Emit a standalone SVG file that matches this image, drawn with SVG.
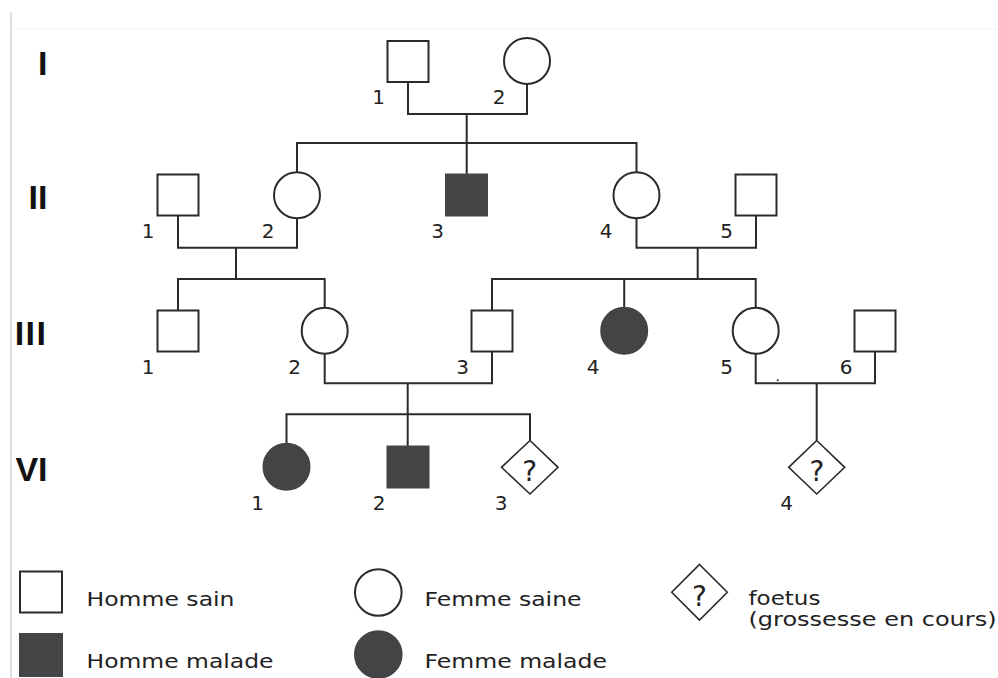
<svg xmlns="http://www.w3.org/2000/svg" width="998" height="678" viewBox="0 0 998 678">
<style>
.bg{fill:#ffffff}
.ln{fill:none;stroke:#2b2b2b;stroke-width:2}
.m{fill:#ffffff;stroke:#2b2b2b;stroke-width:2}
.f{fill:#444444;stroke:#444444;stroke-width:2}
.d{fill:#ffffff;stroke:#2b2b2b;stroke-width:1.6}
.gen{font-family:"Liberation Sans",Arial,sans-serif;font-weight:bold;font-size:34px;fill:#111111;text-anchor:end}
.num{font-family:"DejaVu Sans",Verdana,sans-serif;font-size:20px;fill:#222222;text-anchor:middle}
.q{font-family:"DejaVu Sans",Verdana,sans-serif;font-size:28px;fill:#222222;text-anchor:middle}
.lg{font-family:"DejaVu Sans",Verdana,sans-serif;font-size:20px;fill:#222222}
</style>
<rect class="bg" x="0" y="0" width="998" height="678"/>
<line x1="11" y1="12" x2="11" y2="678" stroke="#d4d4d4" stroke-width="1.5"/>
<line x1="12" y1="29" x2="998" y2="29" stroke="#f3f3f3" stroke-width="1"/>

<g id="generations">
<text class="gen" x="47.5" y="75">I</text>
<text class="gen" x="47.5" y="209">II</text>
<text class="gen" x="47.5" y="345" letter-spacing="1.5">III</text>
<text class="gen" x="47.5" y="481">VI</text>
</g>

<g id="connectors">
<path class="ln" d="M408 83 V114 H527 V84"/>
<path class="ln" d="M466.7 114 V174"/>
<path class="ln" d="M297 172 V143 H636.5 V172"/>
<path class="ln" d="M178 216 V247.7 H297 V218.5"/>
<path class="ln" d="M236 247.7 V279"/>
<path class="ln" d="M178 310 V279 H324.7 V307.8"/>
<path class="ln" d="M636.5 218.5 V247.7 H756 V216"/>
<path class="ln" d="M697.7 247.7 V279"/>
<path class="ln" d="M492 310 V279 H755.7 V307.8"/>
<path class="ln" d="M624.2 279 V307.8"/>
<path class="ln" d="M324.7 354 V383.3 H492 V352"/>
<path class="ln" d="M407.7 383.3 V446"/>
<path class="ln" d="M286.5 443 V414.3 H530 V440.5"/>
<path class="ln" d="M755.7 354 V383.3 H875 V352"/>
<path class="ln" d="M816.7 383.3 V440.5"/>
<circle cx="777.7" cy="380.3" r="1" fill="#2b2b2b"/>
</g>

<g id="I-1"><rect class="m" x="387.5" y="41" width="41" height="41"/><text class="num" x="378.5" y="104">1</text></g>
<g id="I-2"><circle class="m" cx="527" cy="61" r="23"/><text class="num" x="499" y="104">2</text></g>

<g id="II-1"><rect class="m" x="157.5" y="174.5" width="41" height="41"/><text class="num" x="148" y="238">1</text></g>
<g id="II-2"><circle class="m" cx="297" cy="195.3" r="23"/><text class="num" x="268" y="238">2</text></g>
<g id="II-3"><rect class="f" x="446" y="174.5" width="41" height="41"/><text class="num" x="437.5" y="238">3</text></g>
<g id="II-4"><circle class="m" cx="636.5" cy="195.3" r="23"/><text class="num" x="606" y="238">4</text></g>
<g id="II-5"><rect class="m" x="735.5" y="174.5" width="41" height="41"/><text class="num" x="726.5" y="238">5</text></g>

<g id="III-1"><rect class="m" x="157.5" y="310.5" width="41" height="41"/><text class="num" x="148" y="374">1</text></g>
<g id="III-2"><circle class="m" cx="324.7" cy="330.8" r="23"/><text class="num" x="294.5" y="374">2</text></g>
<g id="III-3"><rect class="m" x="471.5" y="310.5" width="41" height="41"/><text class="num" x="462.5" y="374">3</text></g>
<g id="III-4"><circle class="f" cx="624.2" cy="330.8" r="23"/><text class="num" x="593" y="374">4</text></g>
<g id="III-5"><circle class="m" cx="755.7" cy="330.8" r="23"/><text class="num" x="726.5" y="374">5</text></g>
<g id="III-6"><rect class="m" x="854.5" y="310.5" width="41" height="41"/><text class="num" x="846" y="374">6</text></g>

<g id="IV-1"><circle class="f" cx="286.5" cy="466.8" r="23"/><text class="num" x="257.5" y="510">1</text></g>
<g id="IV-2"><rect class="f" x="387.5" y="446.5" width="41" height="41"/><text class="num" x="379" y="510">2</text></g>
<g id="IV-3"><polygon class="d" points="530,440.5 558,467.3 530,494 501.5,467.3"/><text class="q" x="529.7" y="480.7">?</text><text class="num" x="501" y="510">3</text></g>
<g id="IV-4"><polygon class="d" points="816.7,440.5 844.7,467.3 816.7,494 788.7,467.3"/><text class="q" x="817" y="480.7">?</text><text class="num" x="786.5" y="510">4</text></g>

<g id="legend-homme-sain"><rect class="m" x="20" y="571.5" width="42" height="41"/><text class="lg" transform="translate(86.5 605.7) scale(1.17 1)" x="0" y="0" textLength="126.5" lengthAdjust="spacingAndGlyphs">Homme sain</text></g>
<g id="legend-homme-malade"><rect class="f" x="20" y="634" width="42" height="42"/><text class="lg" transform="translate(86.5 668) scale(1.17 1)" x="0" y="0" textLength="159.8" lengthAdjust="spacingAndGlyphs">Homme malade</text></g>
<g id="legend-femme-saine"><circle class="m" cx="378.3" cy="592.5" r="23.3"/><text class="lg" transform="translate(424.5 605.7) scale(1.17 1)" x="0" y="0" textLength="134.2" lengthAdjust="spacingAndGlyphs">Femme saine</text></g>
<g id="legend-femme-malade"><circle class="f" cx="378.3" cy="654.5" r="23.3"/><text class="lg" transform="translate(424.5 668) scale(1.17 1)" x="0" y="0" textLength="156" lengthAdjust="spacingAndGlyphs">Femme malade</text></g>
<g id="legend-foetus"><polygon class="d" points="699.5,564.5 727.3,592.2 699.5,620 671.7,592.2"/><text class="q" x="699.5" y="605.7">?</text><text class="lg" transform="translate(748.5 605) scale(1.17 1)" x="0" y="0" textLength="61.5" lengthAdjust="spacingAndGlyphs">foetus</text><text class="lg" transform="translate(748.5 626) scale(1.17 1)" x="0" y="0" textLength="212" lengthAdjust="spacingAndGlyphs">(grossesse en cours)</text></g>
</svg>
